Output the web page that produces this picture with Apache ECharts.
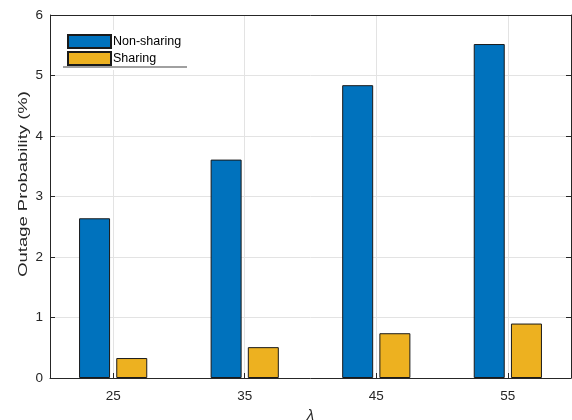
<!DOCTYPE html>
<html>
<head>
<meta charset="utf-8">
<script src="https://cdn.jsdelivr.net/npm/echarts@6/dist/echarts.min.js"></script>
<style>
  html, body { margin: 0; padding: 0; background: #fff; }
  #chart { width: 572px; height: 420px; }
</style>
</head>
<body>
<div id="chart"></div>
<script>
// Arrival rate values (x axis) and outage probabilities in percent
const lambdas = [25, 35, 45, 55];
const nonSharing = [2.64, 3.61, 4.84, 5.52];
const sharing = [0.33, 0.51, 0.74, 0.90];
const yTicks = [0, 1, 2, 3, 4, 5, 6];
const yTitle = 'Outage Probability (%)';

const axisColor = '#262626';
const gridColor = '#e3e3e3';
const font = 'Liberation Sans, Arial, Helvetica, sans-serif';

const chart = echarts.init(document.getElementById('chart'), null, { renderer: 'canvas' });

const barBorder = { borderColor: '#1a1a1a', borderWidth: 1 };

chart.setOption({
  animation: false,
  backgroundColor: '#fff',
  grid: { left: 50, right: 1, top: 15, bottom: 42, containLabel: false, outerBoundsMode: 'none' },
  legend: {
    orient: 'vertical',
    left: 63,
    top: 30,
    padding: [4, 4, 4, 4],
    itemGap: 2,
    itemWidth: 43,
    itemHeight: 13,
    icon: 'rect',
    backgroundColor: '#fff',
    textStyle: { fontFamily: font, fontSize: 12.5, color: '#000', padding: [0, 0, 0, -3] },
    data: ['Non-sharing', 'Sharing']
  },
  xAxis: {
    type: 'value',
    min: 20.2,
    max: 59.8,
    name: 'λ',
    nameLocation: 'middle',
    nameGap: 30,
    nameTextStyle: { fontFamily: font, fontSize: 15, fontStyle: 'italic', color: axisColor },
    axisLine: { show: true, onZero: false, lineStyle: { color: axisColor, width: 1 } },
    axisTick: { show: true, inside: true, length: 5, customValues: lambdas, lineStyle: { color: axisColor } },
    axisLabel: { customValues: lambdas, margin: 11, fontFamily: font, fontSize: 13.5, color: axisColor },
    splitLine: { show: true, lineStyle: { color: gridColor, width: 1 } }
  },
  yAxis: [{
    type: 'value',
    min: 0,
    max: 6,
    interval: 1,
    axisLine: { show: true, lineStyle: { color: axisColor, width: 1 } },
    axisTick: { show: true, inside: true, length: 5, lineStyle: { color: axisColor } },
    axisLabel: { margin: 7, fontFamily: font, fontSize: 13.5, color: axisColor,
      formatter: v => yTicks.includes(v) ? String(v) : '' },
    splitLine: { show: true, lineStyle: { color: gridColor, width: 1 } }
  }, {
    // right edge of the box
    type: 'value', position: 'right', min: 0, max: 6, interval: 1,
    axisLine: { show: true, lineStyle: { color: axisColor, width: 1 } },
    axisTick: { show: true, inside: true, length: 5, lineStyle: { color: axisColor } },
    axisLabel: { show: false },
    splitLine: { show: false }
  }],
  graphic: [
    // top edge of the box
    { type: 'line', silent: true, z: 100,
      shape: { x1: 50, y1: 15.5, x2: 571, y2: 15.5 },
      style: { stroke: axisColor, lineWidth: 1 } },
    // legend frame bottom rule
    { type: 'line', silent: true, z: 100,
      shape: { x1: 63, y1: 67, x2: 187, y2: 67 },
      style: { stroke: '#808080', lineWidth: 1.5 } },
    // y-axis title, drawn tall and narrow
    { type: 'text', silent: true, z: 100,
      x: 23, y: 184, rotation: Math.PI / 2, scaleX: 1.42,
      style: { text: yTitle, font: '13px ' + font, fill: axisColor,
        align: 'center', verticalAlign: 'middle' } }
  ],
  series: [
    {
      name: 'Non-sharing',
      type: 'bar',
      barWidth: 31,
      barGap: '20%',
      itemStyle: Object.assign({ color: '#0072BD' }, barBorder),
      data: lambdas.map((x, i) => [x, nonSharing[i]])
    },
    {
      name: 'Sharing',
      type: 'bar',
      barWidth: 31,
      barGap: '20%',
      itemStyle: Object.assign({ color: '#EDB120' }, barBorder),
      data: lambdas.map((x, i) => [x, sharing[i]])
    }
  ]
});
</script>
</body>
</html>
